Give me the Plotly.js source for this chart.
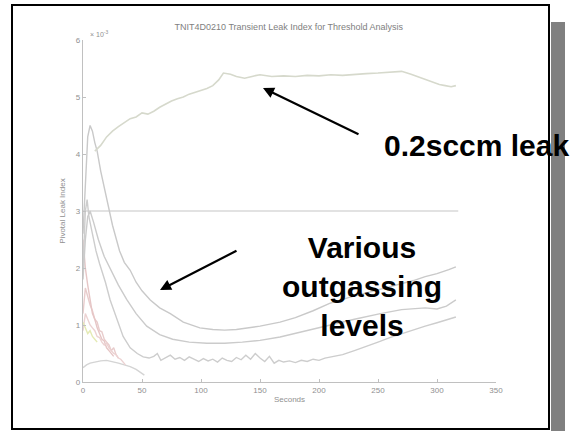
<!DOCTYPE html>
<html><head><meta charset="utf-8">
<script src="https://cdn.plot.ly/plotly-3.0.1.min.js"></script>
<style>html,body{margin:0;padding:0;background:#fff}#c{width:580px;height:431px}</style>
</head><body><div id="c"></div>
<script>
// Leak curve (0.2 sccm)
const tLeak=[10,15,20,25,30,35,40,45,50,55,60,65,70,75,80,85,90,95,100,105,110,115,119,125,130,137,145,150,160,170,180,190,200,210,220,230,240,250,260,270,278,286,295,302,307,312,316];
const vLeak=[4.05,4.15,4.3,4.4,4.48,4.55,4.62,4.65,4.72,4.7,4.75,4.82,4.88,4.93,4.97,5.0,5.05,5.08,5.12,5.15,5.2,5.3,5.42,5.4,5.36,5.33,5.37,5.39,5.36,5.37,5.36,5.38,5.37,5.39,5.38,5.40,5.41,5.42,5.43,5.45,5.40,5.34,5.28,5.22,5.2,5.18,5.2];
// Outgassing curve A (highest)
const tA=[0,2,4,6,8,10,12,15,20,25,31,35,40,45,50,57,65,74,85,99,110,120,130,140,150,167,180,195,209,225,240,252,265,280,290,300,310,316];
const vA=[2.6,3.6,4.3,4.5,4.4,4.2,4.05,3.7,3.2,2.75,2.3,2.1,1.96,1.75,1.6,1.44,1.3,1.2,1.05,0.95,0.92,0.91,0.92,0.95,0.98,1.05,1.13,1.25,1.38,1.48,1.56,1.62,1.7,1.78,1.85,1.9,1.97,2.02];
// Outgassing curve C (middle)
const tC=[0,2,4,6,9,13,18,23,30,37,45,54,65,76,90,105,120,135,150,167,185,209,230,252,270,290,300,308,316];
const vC=[1.8,2.5,2.9,3.0,2.8,2.5,2.2,1.98,1.7,1.45,1.2,0.98,0.83,0.75,0.7,0.68,0.68,0.7,0.73,0.79,0.88,1.0,1.1,1.2,1.27,1.3,1.28,1.33,1.44];
// Outgassing curve B (noisy)
const tB=[0,2,3.5,5,8,11,14,19,23,29,34,40,46,51,56,60,63,66,70,74,78,82,86,90,94,98,102,106,110,114,118,122,126,130,134,138,142,146,150,154,158,162,166,170,175,180,185,190,195,200,205,210,220,230,240,250,260,270,280,290,300,310,316];
const vB=[2.0,3.0,3.2,2.9,2.6,2.3,2.08,1.75,1.44,1.1,0.8,0.6,0.5,0.44,0.42,0.45,0.5,0.38,0.42,0.47,0.4,0.43,0.38,0.44,0.4,0.36,0.41,0.37,0.4,0.35,0.42,0.38,0.36,0.43,0.39,0.47,0.4,0.5,0.42,0.36,0.45,0.33,0.38,0.35,0.37,0.34,0.38,0.36,0.4,0.38,0.42,0.44,0.48,0.55,0.62,0.7,0.78,0.85,0.92,0.98,1.04,1.1,1.14];
// Short low curve
const tL=[0,3,6,10,15,20,25,30,35,40,45,50,52];
const vL=[0.25,0.3,0.33,0.35,0.37,0.38,0.36,0.33,0.3,0.27,0.22,0.15,0.12];
// Short pink curves
const tP1=[0,2,4,6,8,10,12,14,16,18,20,22,24,26,28,30];
const vP1=[1.2,1.65,1.5,1.35,1.25,1.1,1.05,0.9,0.88,0.75,0.7,0.65,0.55,0.6,0.48,0.42];
const tP2=[0,2,4,6,8,10,12,14,16,18,20,22,24,26];
const vP2=[2.5,2.0,1.7,1.45,1.2,1.1,0.95,0.85,0.75,0.72,0.6,0.55,0.5,0.45];
const tP3=[0,2,4,6,8,10,12,14,16,18,20,22,24,26,28,30,32,34,36];
const vP3=[0.9,1.2,1.1,1.0,0.95,0.9,0.8,0.78,0.7,0.65,0.68,0.6,0.55,0.5,0.48,0.42,0.4,0.35,0.3];
// Short yellow curve
const tY=[0,2,4,6,8,10,12];
const vY=[1.05,0.95,0.85,0.9,0.8,0.75,0.7];
// Threshold
const tThr=[0,318];
const vThr=[3,3];
const yTicks=[0,1,2,3,4,5,6];
const xTicks=[0,50,100,150,200,250,300,350];

const ln=(x,y,c,w)=>({x:x,y:y,type:'scatter',mode:'lines',line:{color:c,width:w||1.4},hoverinfo:'skip',showlegend:false});
const data=[
  ln(tThr,vThr,'#d8d8d8',1.3),
  ln(tL,vL,'#d4d4d4'),
  ln(tP1,vP1,'#e8cccc'),
  ln(tP2,vP2,'#e6c6c6'),
  ln(tP3,vP3,'#ecd2d2'),
  ln(tY,vY,'#e4eab4'),
  ln(tB,vB,'#cdcdcd'),
  ln(tC,vC,'#cbcbcb'),
  ln(tA,vA,'#c9c9c9'),
  ln(tLeak,vLeak,'#d6d9cc',1.6)
];
const px=v=>(v-83)/413, py=v=>(382-v)/342;
const layout={
  width:580,height:431,
  margin:{l:83,r:84,t:40,b:49},
  paper_bgcolor:'#ffffff',plot_bgcolor:'#ffffff',
  font:{family:'Liberation Sans, Arial, sans-serif',color:'#888'},
  title:{text:'TNIT4D0210 Transient Leak Index for Threshold Analysis',font:{size:9,color:'#808080'},x:0.498,xanchor:'center',y:1-27/431,yanchor:'middle'},
  xaxis:{range:[0,350],tickvals:xTicks,ticktext:xTicks.map(String),showline:true,linecolor:'#c0c0c0',linewidth:1.2,ticks:'inside',ticklen:3,tickcolor:'#c0c0c0',showgrid:false,zeroline:false,tickfont:{size:8,color:'#909090'},
    title:{text:'Seconds',font:{size:8,color:'#909090'},standoff:2}},
  yaxis:{range:[0,6],tickvals:yTicks,ticktext:yTicks.map(String),showline:true,linecolor:'#c0c0c0',linewidth:1.2,ticks:'inside',ticklen:3,tickcolor:'#c0c0c0',showgrid:false,zeroline:false,tickfont:{size:8,color:'#909090'},
    title:{text:'Pivotal Leak Index',font:{size:8,color:'#909090'},standoff:9}},
  shapes:[
    {type:'rect',xref:'paper',yref:'paper',x0:px(551),x1:px(565),y0:py(431),y1:py(22),fillcolor:'#808080',line:{width:0},layer:'below'},
    {type:'rect',xref:'paper',yref:'paper',x0:px(12),x1:px(549),y0:py(429),y1:py(5),fillcolor:'rgba(0,0,0,0)',line:{color:'#000',width:2},layer:'above'}
  ],
  annotations:[
    {xref:'paper',yref:'paper',x:0.012,y:1.0,xanchor:'left',yanchor:'bottom',text:'× 10<sup>-3</sup>',showarrow:false,font:{size:7,color:'#909090'}},
    {xref:'paper',yref:'paper',x:px(382),y:py(145),xanchor:'left',yanchor:'middle',text:'<b>0.2sccm leak</b>',showarrow:false,font:{size:30,color:'#000',family:'Liberation Sans, Arial, sans-serif'}},
    {xref:'paper',yref:'paper',x:px(362),y:py(286),xanchor:'center',yanchor:'middle',align:'center',text:'<b>Various<br>outgassing<br>levels</b>',showarrow:false,font:{size:30,color:'#000',family:'Liberation Sans, Arial, sans-serif'}},
    {xref:'paper',yref:'paper',x:px(263),y:py(88),text:'',showarrow:true,ax:97,ay:47,arrowhead:2,arrowsize:1,arrowwidth:2.2,arrowcolor:'#000'},
    {xref:'paper',yref:'paper',x:px(160),y:py(290),text:'',showarrow:true,ax:78,ay:-40,arrowhead:2,arrowsize:1,arrowwidth:2.2,arrowcolor:'#000'}
  ]
};
Plotly.newPlot('c',data,layout,{staticPlot:true,displayModeBar:false});
</script></body></html>
